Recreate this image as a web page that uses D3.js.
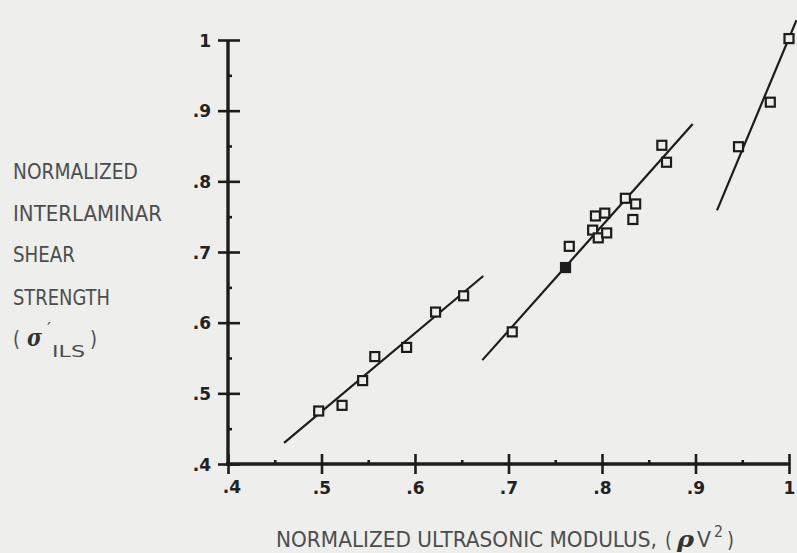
<!DOCTYPE html>
<html><head><meta charset="utf-8">
<script src="https://cdn.jsdelivr.net/npm/d3@7"></script>
<style>
html,body{margin:0;padding:0;background:#eeeeec;}
svg{display:block;}
</style></head>
<body>
<svg id="chart" width="797" height="553"></svg>
<script>
// ---- data ----
const group1X = [0.497, 0.522, 0.544, 0.557, 0.591, 0.622, 0.652];
const group1Y = [0.475, 0.483, 0.518, 0.552, 0.565, 0.615, 0.638];
const group2X = [0.704, 0.761, 0.765, 0.790, 0.793, 0.803, 0.796, 0.805, 0.825, 0.836, 0.833, 0.864, 0.869];
const group2Y = [0.587, 0.678, 0.708, 0.731, 0.751, 0.755, 0.720, 0.727, 0.776, 0.768, 0.746, 0.851, 0.827];
const group2Filled = [false, true, false, false, false, false, false, false, false, false, false, false, false];
const group3X = [0.946, 0.980, 1.000];
const group3Y = [0.849, 0.912, 1.002];
const fitLine1 = [[0.460, 0.430], [0.673, 0.666]];
const fitLine2 = [[0.672, 0.547], [0.897, 0.881]];
const fitLine3 = [[0.923, 0.759], [1.008, 1.028]];
const majorTicks = [0.4, 0.5, 0.6, 0.7, 0.8, 0.9, 1.0];
const minorTicks = [0.45, 0.55, 0.65, 0.75, 0.85, 0.95];
const xTickLabels = [".4", ".5", ".6", ".7", ".8", ".9", "1"];
const yTickLabels = [".4", ".5", ".6", ".7", ".8", ".9", "1"];
const yTitleLines = ["NORMALIZED", "INTERLAMINAR", "SHEAR", "STRENGTH"];

// ---- scales ----
const svg = d3.select("#chart");
const x = d3.scaleLinear().domain([0.4, 1.0]).range([228, 789]);
const y = d3.scaleLinear().domain([0.4, 1.0]).range([464, 40]);
const ink = "#1c1c1c";
const bg = "#eeeeec";

// ---- axes ----
const tickFont = "bold 17px 'DejaVu Sans', sans-serif";
function styleAxis(g) {
  g.select(".domain").remove();
  g.selectAll("line").attr("stroke", ink).attr("stroke-width", 2.6);
  g.selectAll("text").attr("fill", "#222").style("font", tickFont);
}
svg.append("g").attr("transform", `translate(${x(0.4)},0)`)
  .call(d3.axisLeft(y).tickValues(majorTicks).tickSize(10).tickPadding(7)
        .tickFormat((d, i) => yTickLabels[i]))
  .call(styleAxis).call(g => g.selectAll("text").attr("dy", "0.36em"));
svg.append("g").attr("transform", `translate(${x(0.4)},0)`)
  .call(d3.axisRight(y).tickValues(majorTicks).tickSize(12).tickFormat(""))
  .call(styleAxis);
svg.append("g").attr("transform", `translate(${x(0.4)},0)`)
  .call(d3.axisRight(y).tickValues(minorTicks).tickSize(4).tickFormat(""))
  .call(styleAxis);
svg.append("g").attr("transform", `translate(0,${y(0.4)})`)
  .call(d3.axisBottom(x).tickValues(majorTicks).tickSize(10).tickPadding(8)
        .tickFormat((d, i) => i === 0 ? "" : xTickLabels[i]))
  .call(styleAxis);
svg.append("g").attr("transform", `translate(0,${y(0.4)})`)
  .call(d3.axisTop(x).tickValues(majorTicks).tickSize(10).tickFormat(""))
  .call(styleAxis);
svg.append("g").attr("transform", `translate(0,${y(0.4)})`)
  .call(d3.axisTop(x).tickValues(minorTicks).tickSize(4).tickFormat(""))
  .call(styleAxis);
svg.append("text").attr("x", x(0.4) + 4).attr("y", y(0.4) + 29)
  .attr("text-anchor", "middle").attr("fill", "#222").style("font", tickFont).text(xTickLabels[0]);
svg.append("line").attr("x1", x(0.4)).attr("x2", x(0.4)).attr("y1", y(1.0)).attr("y2", y(0.4) + 2)
  .attr("stroke", ink).attr("stroke-width", 3.4);
svg.append("line").attr("x1", x(0.4) - 2).attr("x2", x(1.0)).attr("y1", y(0.4)).attr("y2", y(0.4))
  .attr("stroke", ink).attr("stroke-width", 3.4);

// ---- fit lines ----
const lineGen = d3.line().x(d => x(d[0])).y(d => y(d[1]));
[fitLine1, fitLine2, fitLine3].forEach(l => {
  svg.append("path").attr("d", lineGen(l)).attr("fill", "none")
    .attr("stroke", ink).attr("stroke-width", 2.2);
});

// ---- points ----
const pts = [];
group1X.forEach((v, i) => pts.push({x: v, y: group1Y[i], f: false}));
group2X.forEach((v, i) => pts.push({x: v, y: group2Y[i], f: group2Filled[i]}));
group3X.forEach((v, i) => pts.push({x: v, y: group3Y[i], f: false}));
const s = 9;
svg.append("g").selectAll("rect").data(pts).join("rect")
  .attr("x", d => x(d.x) - s / 2).attr("y", d => y(d.y) - s / 2)
  .attr("width", s).attr("height", s)
  .attr("fill", d => d.f ? ink : bg)
  .attr("stroke", ink).attr("stroke-width", 2.2);

// ---- titles (condensed by horizontal scaling) ----
const titleFont = "21px 'DejaVu Sans', sans-serif";
const titleColor = "#4d4d4d";
function fit(txt, x0, y0, w, font, color) {
  const t = svg.append("text").attr("x", 0).attr("y", 0)
    .attr("fill", color || titleColor).style("font", font || titleFont).text(txt);
  const len = t.node().getComputedTextLength() || w;
  t.attr("transform", `translate(${x0},${y0}) scale(${w / len},1)`);
  return t;
}
const baselines = [179, 221, 262, 305];
const widths = [125, 149, 62, 97];
yTitleLines.forEach((t, i) => fit(t, 13, baselines[i], widths[i]));

// (σ' ILS)
fit("(", 13, 346, 7);
fit("σ", 27, 346, 15, "italic bold 25px 'DejaVu Serif', serif", "#333");
fit("′", 47, 334, 4, "15px 'DejaVu Sans', sans-serif");
fit("ILS", 52, 357, 33, "16px 'DejaVu Sans', sans-serif");
fit(")", 90, 346, 7);

// x title
fit("NORMALIZED ULTRASONIC MODULUS,", 276, 547, 381);
fit("(", 665, 547, 7);
fit("ρ", 677, 547, 17, "italic bold 23px 'DejaVu Serif', serif", "#333");
fit("V", 697, 547, 14);
fit("2", 714, 537, 9, "15px 'DejaVu Sans', sans-serif");
fit(")", 727, 547, 7);
</script>
</body></html>
